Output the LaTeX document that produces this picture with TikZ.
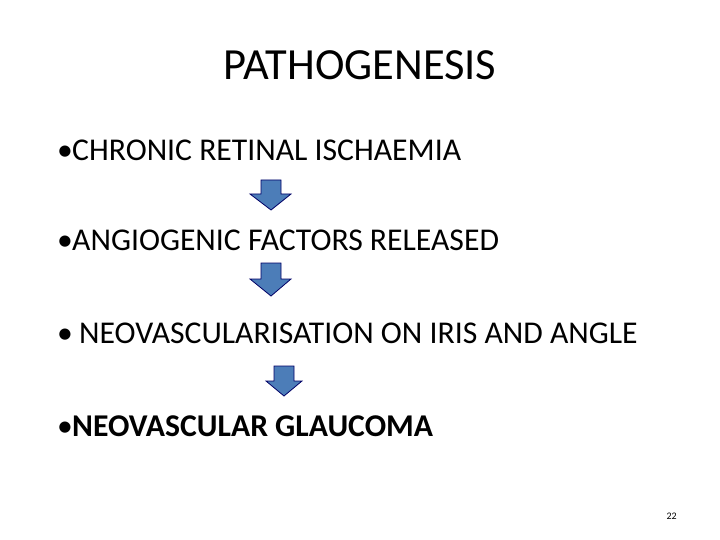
\documentclass[tikz,border=0pt]{standalone}
\usepackage{fontspec}
\setmainfont{Carlito}
\begin{document}
\begin{tikzpicture}[x=1pt,y=-1pt,
  txt/.style={anchor=base west,inner sep=0pt,font=\fontsize{31.7}{36}\selectfont},
  arr/.style={fill=blue!55!cyan!60!black!70,draw=blue!40!black,line width=0.8pt}]
\useasboundingbox (0,0) rectangle (720,540);
\node[anchor=base,inner sep=0pt,font=\fontsize{44.5}{48}\selectfont] (t) at (360,80) {PATHOGENESIS};
\foreach \y/\n in {161/p1,250/p2,343/p3,436/p4} \node[txt] (\n) at (57,\y) {•};
\node[txt] (a) at (72,161) {CHRONIC RETINAL ISCHAEMIA};
\node[txt] (b) at (72,250) {ANGIOGENIC FACTORS RELEASED};
\node[txt] (c) at (79,343) {NEOVASCULARISATION ON IRIS AND ANGLE};
\node[txt] (d) at (72,436) {\textbf{NEOVASCULAR GLAUCOMA}};
\node[anchor=base east,inner sep=0pt,font=\fontsize{10}{11}\selectfont] (n) at (677,519) {22};
\draw[arr] (261,180) -- (281,180) -- (281,194) -- (291,194) -- (271,210) -- (250,194) -- (261,194) -- cycle;
\draw[arr] (261,263) -- (281,263) -- (281,279) -- (291,279) -- (271,296) -- (250,279) -- (261,279) -- cycle;
\draw[arr] (274,366) -- (294,366) -- (294,381) -- (302,381) -- (284,396) -- (266,381) -- (274,381) -- cycle;
\end{tikzpicture}
\end{document}
